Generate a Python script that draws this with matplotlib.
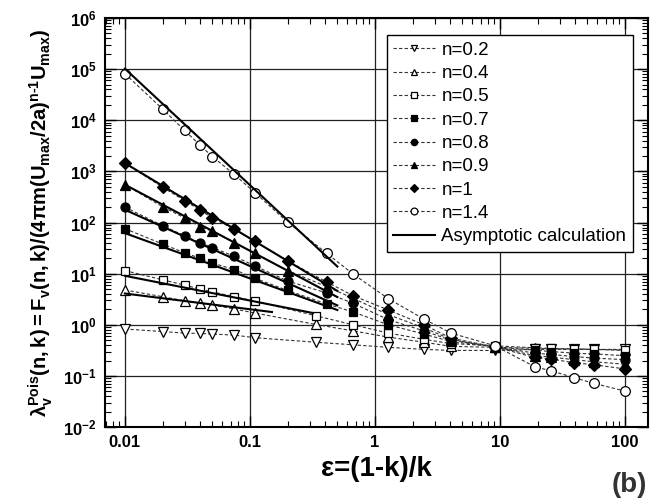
import numpy as np
import matplotlib
matplotlib.use("Agg")
import matplotlib.pyplot as plt
from matplotlib.ticker import LogLocator, FuncFormatter, NullFormatter

plt.rcParams['font.family'] = ['Liberation Sans', 'DejaVu Sans']
plt.rcParams['mathtext.fontset'] = 'custom'
plt.rcParams['mathtext.rm'] = 'Liberation Sans:bold'
plt.rcParams['mathtext.it'] = 'Liberation Sans:bold'
plt.rcParams['mathtext.bf'] = 'Liberation Sans:bold'
plt.rcParams['mathtext.default'] = 'bf'

# eps = (1-k)/k sample points
x_near = [0.01, 0.02, 0.03, 0.04, 0.05, 0.075, 0.11]
x_far = [19, 25.7, 39, 56, 99]
x_filled = x_near + [0.2, 0.41, 0.67, 1.28, 2.47, 4.05, 9.1] + x_far
x_open = x_near + [0.335, 0.67, 1.28, 2.47, 4.05, 9.1] + x_far

y_n02 = [0.83, 0.74, 0.69, 0.68, 0.66, 0.63, 0.56, 0.457, 0.407, 0.363, 0.331, 0.316,
         0.316, 0.331, 0.331, 0.331, 0.331, 0.331]
y_n04 = [4.8, 3.55, 2.95, 2.63, 2.45, 2.04, 1.7, 1.02, 0.76, 0.575, 0.457, 0.38,
         0.363, 0.347, 0.339, 0.339, 0.331, 0.324]
y_n05 = [11.5, 7.6, 6.0, 5.0, 4.4, 3.55, 2.9, 1.51, 1.0, 0.69, 0.52, 0.43,
         0.39, 0.355, 0.347, 0.339, 0.331, 0.316]
y_n07 = [76, 38, 25.7, 20, 16.2, 12, 8.1, 4.7, 2.57, 1.78, 1.0, 0.66, 0.47, 0.37,
         0.32, 0.30, 0.28, 0.27, 0.25]
y_n08 = [200, 87, 55, 40, 32.4, 21.9, 14.1, 7.2, 4.2, 2.63, 1.26, 0.76, 0.50, 0.37,
         0.28, 0.263, 0.24, 0.224, 0.209]
y_n09 = [550, 204, 123, 83, 68, 40.7, 25.1, 11.5, 5.6, 3.3, 1.58, 0.87, 0.52, 0.37,
         0.25, 0.234, 0.209, 0.19, 0.17]
y_n10 = [1450, 490, 269, 174, 123, 74, 42.7, 17.8, 6.9, 3.7, 1.95, 1.0, 0.55, 0.37,
         0.23, 0.214, 0.182, 0.166, 0.138]
y_n14 = [81300, 16600, 6310, 3240, 1950, 871, 380, 102, 25.1, 9.8, 3.24, 1.29, 0.69,
         0.39, 0.151, 0.126, 0.093, 0.072, 0.051]

# asymptotic calculation: straight lines in log-log, (eps start, eps end, value start, value end)
asym = [
    (0.01, 0.5, 1.02e5, 13.8),
    (0.01, 0.5, 1450, 4.6),
    (0.01, 0.5, 550, 3.5),
    (0.01, 0.5, 178, 2.4),
    (0.01, 0.5, 62, 1.95),
    (0.01, 0.32, 9.1, 1.7),
    (0.01, 0.15, 4.1, 1.78),
]

series = [
    ("n=0.2", x_open, y_n02, 'v', 'white', 7),
    ("n=0.4", x_open, y_n04, '^', 'white', 7),
    ("n=0.5", x_open, y_n05, 's', 'white', 5.5),
    ("n=0.7", x_filled, y_n07, 's', 'black', 5.5),
    ("n=0.8", x_filled, y_n08, 'o', 'black', 6.5),
    ("n=0.9", x_filled, y_n09, '^', 'black', 7),
    ("n=1", x_filled, y_n10, 'D', 'black', 6),
    ("n=1.4", x_filled, y_n14, 'o', 'white', 7),
]

fig = plt.figure(figsize=(6.6, 4.99), dpi=100)
ax = fig.add_axes([0.159, 0.144, 0.823, 0.820])

for label, xs, ys, mk, fc, ms in series:
    ax.plot(xs, ys, linestyle=(0, (3, 2)), color='#333333', lw=0.8,
            marker=mk, mfc=fc, mec='black', mew=0.9, ms=ms, label=label)

for i, (x0, x1, y0, y1) in enumerate(asym):
    ax.plot([x0, x1], [y0, y1], color='black', lw=1.5,
            label="Asymptotic calculation" if i == 0 else None)

ax.set_xscale('log')
ax.set_yscale('log')
ax.set_xlim(0.00692, 152.8)
ax.set_ylim(1e-2, 1e6)

ax.yaxis.set_major_locator(LogLocator(base=10, numticks=20))
ax.yaxis.set_minor_locator(LogLocator(base=10, subs=np.arange(2, 10), numticks=20))
ax.xaxis.set_major_locator(LogLocator(base=10, numticks=20))
ax.xaxis.set_minor_locator(LogLocator(base=10, subs=np.arange(2, 10), numticks=20))
ax.yaxis.set_major_formatter(FuncFormatter(lambda v, p: r"$\mathbf{10^{%d}}$" % round(np.log10(v))))
ax.xaxis.set_major_formatter(FuncFormatter(lambda v, p: ("%g" % v)))
ax.xaxis.set_minor_formatter(NullFormatter())
ax.yaxis.set_minor_formatter(NullFormatter())

ax.tick_params(which='both', direction='in', top=True, right=True)
ax.tick_params(which='major', length=8, width=1.0, labelsize=12, pad=6)
ax.tick_params(which='minor', length=4, width=0.8)
for lab in ax.get_xticklabels():
    lab.set_fontweight('bold')
for s in ax.spines.values():
    s.set_linewidth(1.5)

ax.grid(True, which='major', color='#222222', lw=0.9)

ax.set_xlabel(r"ε=(1-k)/k", fontsize=20, fontweight='bold', labelpad=4)
ax.set_ylabel(r"$\lambda_v^{Pois}(n,k) = F_v(n,k)/(4\pi m(U_{max}/2a)^{n\text{-}1}U_{max})$",
              fontsize=14.5, labelpad=6)

leg = ax.legend(loc='upper right', bbox_to_anchor=(0.972, 0.958), fontsize=13.5,
                frameon=True, fancybox=False, edgecolor='black', framealpha=1,
                labelspacing=0.33, handlelength=2.2, handletextpad=0.36,
                borderpad=0.35, borderaxespad=0, markerscale=0.7)
leg.get_frame().set_linewidth(1.0)

fig.text(0.981, 0.003, "(b)", fontsize=20, fontweight='bold', ha='right', va='bottom',
         color='#333333')

fig.savefig("out.png", dpi=100)
